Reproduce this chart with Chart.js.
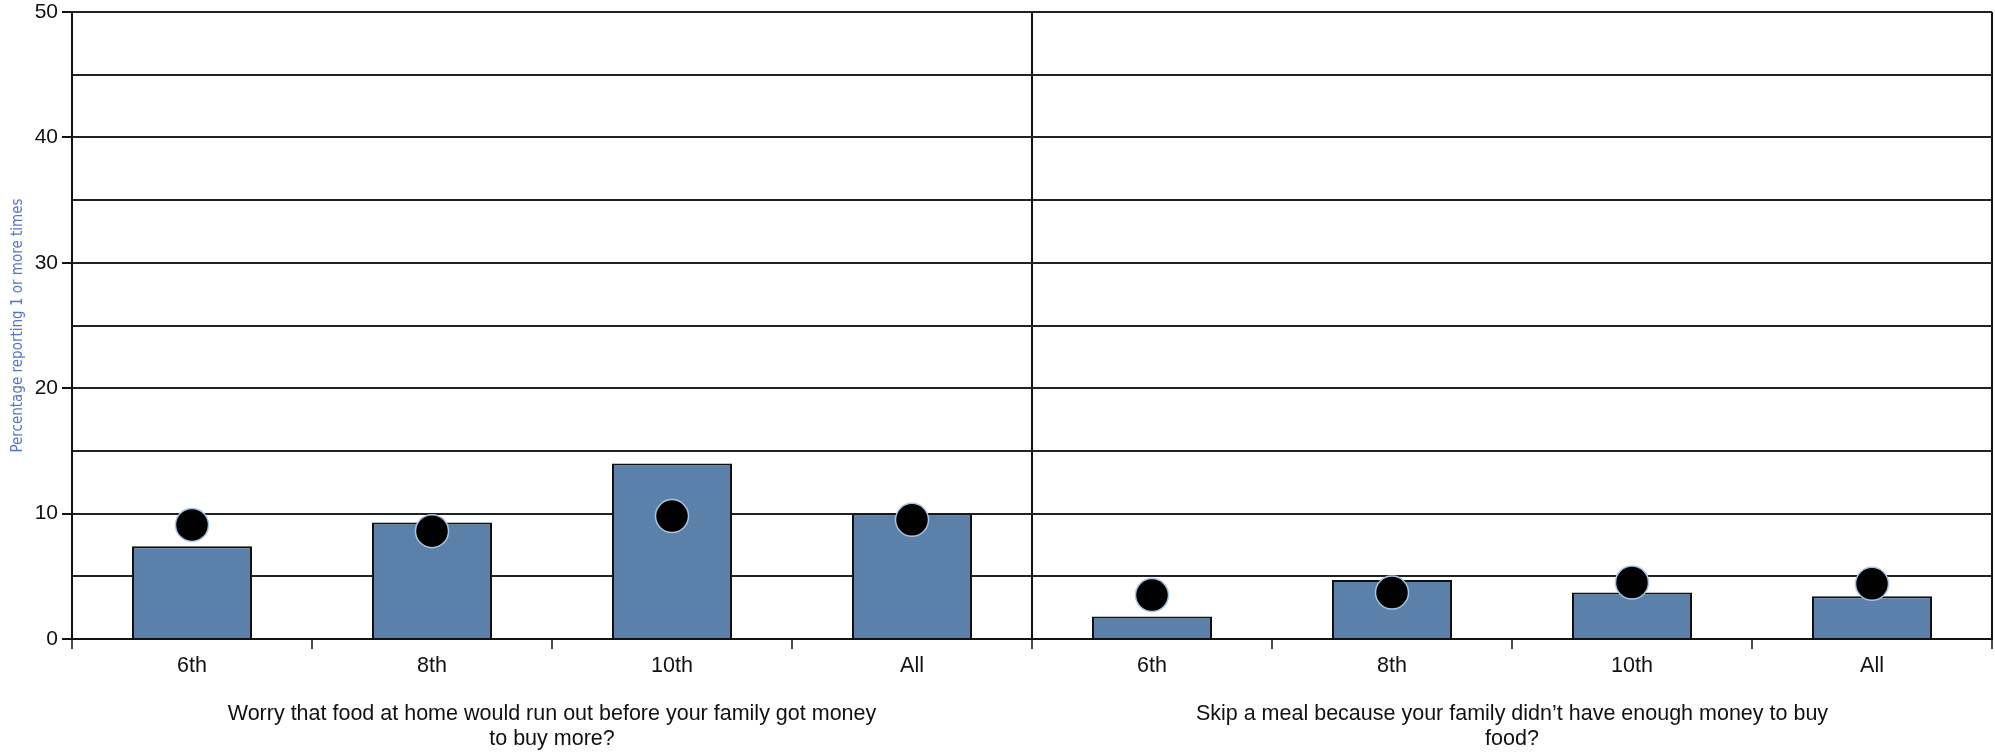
<!DOCTYPE html>
<html>
<head>
<meta charset="utf-8">
<script src="https://cdn.jsdelivr.net/npm/chart.js@4"></script>
<style>
    html, body { margin: 0; padding: 0; background: #fff; }
    #wrap { width: 1995px; height: 752px; }
</style>
</head>
<body>
<div id="wrap"><canvas id="foodChart"></canvas></div>
<script>
// grades, repeated for both questions
const grades = ['6th', '8th', '10th', 'All', '6th', '8th', '10th', 'All'];

// question titles (shown below each half)
const questions = [
    ['Worry that food at home would run out before your family got money', 'to buy more?'],
    ['Skip a meal because your family didn\u2019t have enough money to buy', 'food?']
];

// bars: percentage reporting 1 or more times
const barValues = [7.4, 9.3, 14.0, 10.0, 1.8, 4.7, 3.7, 3.4];
// dots: comparison values
const dotValues = [9.1, 8.6, 9.8, 9.5, 3.5, 3.7, 4.5, 4.4];

const yTicks = [0, 10, 20, 30, 40, 50];

document.addEventListener('DOMContentLoaded', (event) => {
    const ctx = document.getElementById('foodChart').getContext('2d');
    const family = "'Liberation Sans', Arial, sans-serif";

    // keep the plot box where the reference has it
    const noPadX = (scale, h) => { scale.height = h; scale.paddingLeft = 0; scale.paddingRight = 0; };

    const foodChart = new Chart(ctx, {
        data: {
            labels: grades,
            datasets: [
                {
                    type: 'line',
                    label: 'Comparison',
                    data: dotValues,
                    showLine: false,
                    pointRadius: 16.5,
                    pointHoverRadius: 16.5,
                    pointBackgroundColor: '#000000',
                    pointBorderColor: '#a9c5e4',
                    pointBorderWidth: 1.5,
                    order: 0
                },
                {
                    type: 'bar',
                    label: 'Percentage',
                    data: barValues,
                    backgroundColor: '#5b80a9',
                    borderColor: '#111111',
                    borderWidth: 2,
                    barPercentage: 0.5,
                    categoryPercentage: 1.0,
                    order: 1
                }
            ]
        },
        options: {
            responsive: true,
            maintainAspectRatio: false,
            animation: false,
            layout: {
                autoPadding: false,
                padding: { top: 12, right: 3, left: 0, bottom: 0 }
            },
            plugins: {
                legend: { display: false },
                tooltip: { enabled: false }
            },
            scales: {
                x: {
                    type: 'category',
                    offset: true,
                    afterFit: (scale) => noPadX(scale, 40),
                    border: { display: true, color: '#111111', width: 2 },
                    grid: {
                        offset: true,
                        lineWidth: 2,
                        // only the divider between questions and the right edge run up the chart
                        color: (c) => (c.index === 4 || c.index === undefined) ? '#111111' : 'rgba(0,0,0,0)',
                        tickColor: '#111111',
                        tickWidth: 1.5,
                        tickLength: 10
                    },
                    ticks: {
                        color: '#111111',
                        font: { family: family, size: 21.5 },
                        padding: 4,
                        maxRotation: 0,
                        autoSkip: false
                    }
                },
                x2: {
                    type: 'category',
                    position: 'bottom',
                    labels: questions,
                    offset: true,
                    afterFit: (scale) => noPadX(scale, 73),
                    border: { display: false },
                    grid: { display: false, drawTicks: false },
                    ticks: {
                        color: '#111111',
                        font: { family: family, size: 21.5, lineHeight: 1.16 },
                        padding: 23,
                        maxRotation: 0,
                        autoSkip: false
                    }
                },
                y: {
                    min: 0,
                    max: 50,
                    afterFit: (scale) => {
                        scale.width = 72;
                        scale.paddingTop = 0;
                        scale.paddingBottom = 0;
                    },
                    border: { display: true, color: '#111111', width: 2 },
                    grid: {
                        color: '#222222',
                        lineWidth: 2,
                        tickLength: 10,
                        tickColor: (c) => yTicks.includes(c.tick.value) ? '#111111' : 'rgba(0,0,0,0)'
                    },
                    ticks: {
                        stepSize: 5,
                        color: '#111111',
                        font: { family: family, size: 21 },
                        padding: 4,
                        callback: (value) => yTicks.includes(value) ? value : ''
                    },
                    title: {
                        display: true,
                        text: 'Percentage reporting 1 or more times',
                        color: '#5577c2',
                        font: { family: "'Liberation Sans Narrow', 'DejaVu Sans Condensed', sans-serif", size: 15 },
                        padding: { top: 9, bottom: 0 }
                    }
                }
            }
        }
    });
});
</script>
</body>
</html>
